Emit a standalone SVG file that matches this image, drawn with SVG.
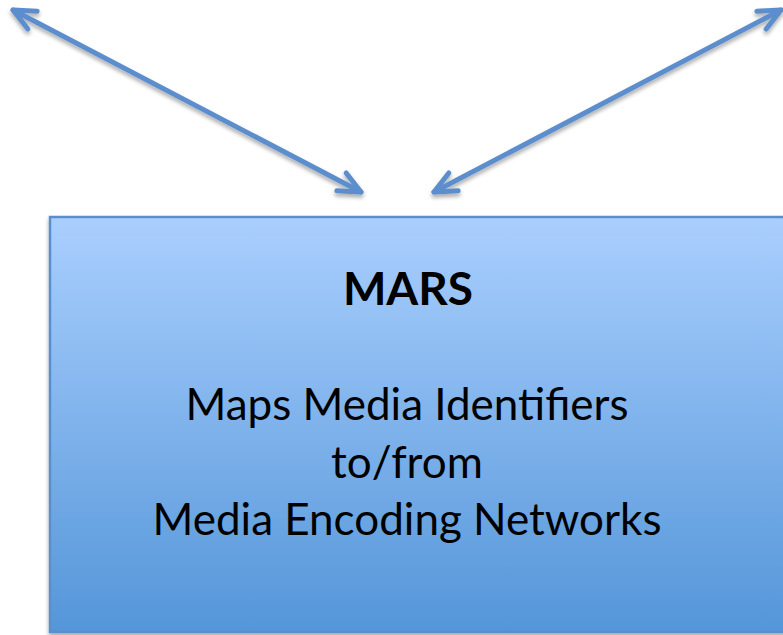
<svg xmlns="http://www.w3.org/2000/svg" width="783" height="635" viewBox="0 0 783 635">
<style>
.conn{fill:none;stroke:#5b8ecd;stroke-width:5;stroke-linecap:round}
.title{font-family:Lato,"Liberation Sans",sans-serif;font-weight:bold;font-size:46px;fill:#000;text-anchor:middle}
.body{font-family:Lato,"Liberation Sans",sans-serif;font-size:44px;fill:#000;text-anchor:middle}
</style>
<defs>
<linearGradient id="g" x1="0" y1="0" x2="0" y2="1">
<stop offset="0" stop-color="#aacffe"/>
<stop offset="1" stop-color="#5496d9"/>
</linearGradient>
<marker id="ah" markerUnits="userSpaceOnUse" markerWidth="40" markerHeight="40" viewBox="-30 -20 40 40" refX="0" refY="0" orient="auto-start-reverse" overflow="visible">
<path d="M -22 -10 L 0 0 L -22 10" fill="none" stroke="#5b8ecd" stroke-width="5" stroke-linecap="round" stroke-linejoin="round"/>
</marker>
<filter id="sh" x="-10%" y="-10%" width="130%" height="130%">
<feGaussianBlur in="SourceAlpha" stdDeviation="2"/>
<feOffset dx="0" dy="3" result="b"/>
<feComponentTransfer><feFuncA type="linear" slope="0.35"/></feComponentTransfer>
<feMerge><feMergeNode/><feMergeNode in="SourceGraphic"/></feMerge>
</filter>
</defs>
<g id="connectors" filter="url(#sh)">
<line class="conn" x1="13" y1="10" x2="361" y2="192" marker-start="url(#ah)" marker-end="url(#ah)"/>
<line class="conn" x1="781" y1="10" x2="434" y2="192" marker-start="url(#ah)" marker-end="url(#ah)"/>
</g>
<g id="mars">
<rect x="50" y="217" width="760" height="415" fill="url(#g)" stroke="#5b8ecd" stroke-width="2.5" filter="url(#sh)"/>
<text class="title" x="408" y="305">MARS</text>
<text class="body" x="407" y="420">Maps Media Identifiers</text>
<text class="body" x="407" y="478">to/from</text>
<text class="body" x="407" y="535">Media Encoding Networks</text>
</g>
</svg>
